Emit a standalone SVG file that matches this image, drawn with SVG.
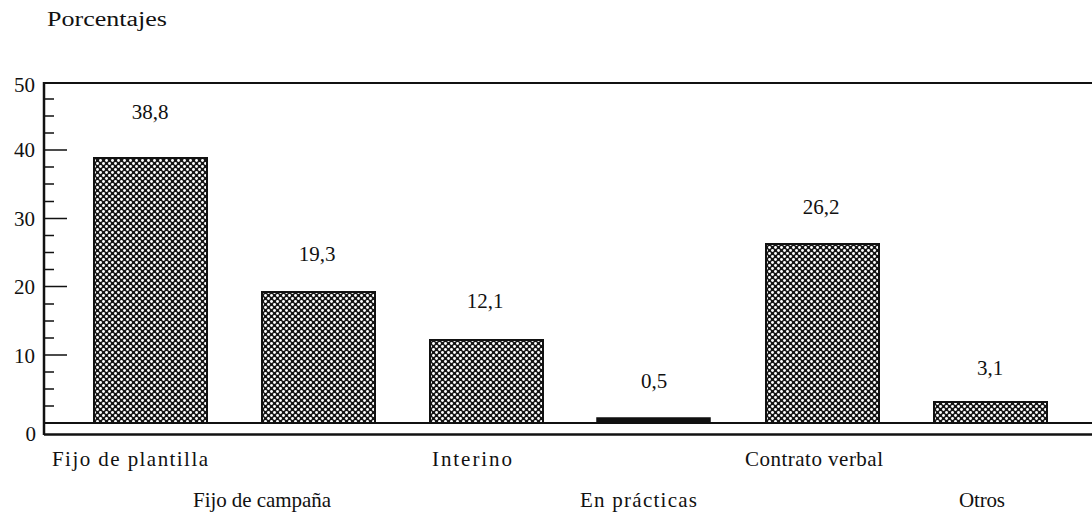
<svg xmlns="http://www.w3.org/2000/svg" width="1092" height="527" viewBox="0 0 1092 527">
<style>
text{font-family:'Liberation Serif','Times New Roman',serif;fill:#111}
.ax{font-size:21px;text-anchor:end}
.val{font-size:21px;text-anchor:middle}
.cat{font-size:21px}
.ln{stroke:#111;fill:none}
.bar{fill:url(#dots);stroke:#111;stroke-width:2}
</style>
<defs>
<pattern id="dots" width="6" height="6" patternUnits="userSpaceOnUse">
<rect width="6" height="6" fill="#151515"/>
<circle cx="1.5" cy="1.5" r="1.45" fill="#fff"/>
<circle cx="4.5" cy="4.5" r="1.45" fill="#fff"/>
</pattern>
</defs>
<text x="47" y="26" font-size="20" textLength="120" lengthAdjust="spacingAndGlyphs">Porcentajes</text>
<g id="axes">
<path class="ln" stroke-width="2.5" d="M44,82 V435"/>
<path class="ln" stroke-width="2" d="M43,83 H1092"/>
<path class="ln" stroke-width="2" d="M44,423 H1092"/>
<path class="ln" stroke-width="2.5" d="M44,434.5 H1092"/>
<path class="ln" stroke-width="1.6" d="M44,150 H67 M44,218.5 H67 M44,286.5 H67 M44,355 H67"/>
<path class="ln" stroke-width="1.4" d="M44,99 H54 M44,116 H54 M44,133 H54 M44,167 H54 M44,184 H54 M44,201.5 H54 M44,235.5 H54 M44,252.5 H54 M44,269.5 H54 M44,304 H54 M44,321 H54 M44,338 H54 M44,372 H54 M44,389 H54 M44,406 H54"/>
<text class="ax" x="35" y="92">50</text>
<text class="ax" x="35" y="157">40</text>
<text class="ax" x="35" y="226">30</text>
<text class="ax" x="35" y="294">20</text>
<text class="ax" x="35" y="363">10</text>
<text class="ax" x="36" y="441">0</text>
</g>
<g id="bar-fijo-plantilla">
<rect class="bar" x="94" y="158" width="113" height="265"/>
<text class="val" x="150" y="119">38,8</text>
<text class="cat" x="52" y="466" textLength="156" lengthAdjust="spacing">Fijo de plantilla</text>
</g>
<g id="bar-fijo-campana">
<rect class="bar" x="262" y="292" width="113" height="131"/>
<text class="val" x="317" y="261">19,3</text>
<text class="cat" x="193" y="507" textLength="138" lengthAdjust="spacing">Fijo de campaña</text>
</g>
<g id="bar-interino">
<rect class="bar" x="430" y="340" width="113" height="83"/>
<text class="val" x="485" y="308">12,1</text>
<text class="cat" x="432" y="466" textLength="80" lengthAdjust="spacing">Interino</text>
</g>
<g id="bar-en-practicas">
<rect x="597" y="418" width="113" height="5" fill="#111" stroke="#111" stroke-width="1.5"/>
<text class="val" x="654" y="388">0,5</text>
<text class="cat" x="580" y="507" textLength="117" lengthAdjust="spacing">En prácticas</text>
</g>
<g id="bar-contrato-verbal">
<rect class="bar" x="766" y="244" width="113" height="179"/>
<text class="val" x="821" y="214">26,2</text>
<text class="cat" x="745" y="466" textLength="138" lengthAdjust="spacing">Contrato verbal</text>
</g>
<g id="bar-otros">
<rect class="bar" x="934" y="402" width="113" height="21"/>
<text class="val" x="990" y="375">3,1</text>
<text class="cat" x="959" y="507" textLength="46" lengthAdjust="spacing">Otros</text>
</g>
<g id="connectors"></g>
</svg>
